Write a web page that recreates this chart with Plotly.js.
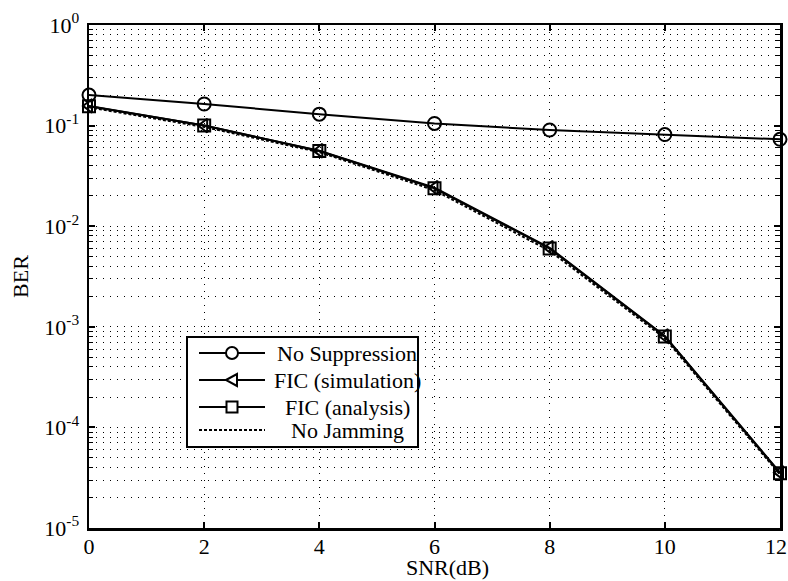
<!DOCTYPE html>
<html>
<head>
<meta charset="utf-8">
<script src="https://cdn.plot.ly/plotly-3.0.1.min.js"></script>
<style>html,body{margin:0;padding:0;background:#fff;}#chart{width:788px;height:581px;}</style>
</head>
<body>
<div id="chart"></div>
<script>
var snr = [0, 2, 4, 6, 8, 10, 12];
var noSuppression = [0.201, 0.164, 0.130, 0.105, 0.0904, 0.0815, 0.0731];
var ficSimulation = [0.157, 0.100, 0.0563, 0.0241, 0.0061, 0.00081, 3.55e-5];
var ficAnalysis = [0.156, 0.100, 0.0560, 0.0238, 0.0060, 0.00080, 3.50e-5];
var noJamming = [0.152, 0.097, 0.0545, 0.0228, 0.0057, 0.00077, 3.40e-5];
var seriesNames = ['No Suppression', 'FIC (simulation)', 'FIC (analysis)', 'No Jamming'];
var yTickVals = [1e-5, 1e-4, 1e-3, 1e-2, 1e-1, 1];
var yTickText = ['10<sup>-5</sup>', '10<sup>-4</sup>', '10<sup>-3</sup>', '10<sup>-2</sup>', '10<sup>-1</sup>', '10<sup>0</sup>'];
var xTickVals = [0, 2, 4, 6, 8, 10, 12];
var xTickText = ['0', '2', '4', '6', '8', '10', '12'];
var xTitle = 'SNR(dB)';
var yTitle = 'BER';

var font = "'Liberation Serif', 'Times New Roman', serif";
var traces = [
  {x: snr, y: noSuppression, name: seriesNames[0], mode: 'lines+markers', cliponaxis: false,
   line: {color: '#000', width: 2}, marker: {symbol: 'circle-open', size: 13, color: '#000', line: {width: 2, color: '#000'}}},
  {x: snr, y: ficSimulation, name: seriesNames[1], mode: 'lines+markers', cliponaxis: false,
   line: {color: '#000', width: 2}, marker: {symbol: 'triangle-left-open', size: 12, color: '#000', line: {width: 2, color: '#000'}}},
  {x: snr, y: ficAnalysis, name: seriesNames[2], mode: 'lines+markers', cliponaxis: false,
   line: {color: '#000', width: 2}, marker: {symbol: 'square-open', size: 12, color: '#000', line: {width: 2, color: '#000'}}},
  {x: snr, y: noJamming, name: seriesNames[3], mode: 'lines', cliponaxis: false,
   line: {color: '#000', width: 2, dash: '3px,2px'}}
];

// legend drawn manually (plot-area fractions)
var W = 691, H = 503, L = 89, B = 528;
function px(x) { return (x - L) / W; }
function py(y) { return (B - y) / H; }
var rowY = [353, 380, 407, 430];
var shapes = [];
var annotations = [];
shapes.push({type: 'rect', xref: 'paper', yref: 'paper', x0: px(187), x1: px(418), y0: py(447), y1: py(337),
  line: {color: '#000', width: 2}, fillcolor: '#fff', layer: 'above'});
rowY.forEach(function (ry, i) {
  shapes.push({type: 'line', xref: 'paper', yref: 'paper', x0: px(199), x1: px(265), y0: py(ry), y1: py(ry),
    line: {color: '#000', width: 2, dash: i === 3 ? '3px,2px' : 'solid'}, layer: 'above'});
  annotations.push({xref: 'paper', yref: 'paper', x: px(347), y: py(ry), xanchor: 'center', yanchor: 'middle',
    text: seriesNames[i], showarrow: false, font: {family: font, size: 22, color: '#000'}});
});
var mx = 232, r = 6;
shapes.push({type: 'circle', xref: 'paper', yref: 'paper', x0: px(mx - r), x1: px(mx + r), y0: py(rowY[0] + r), y1: py(rowY[0] - r),
  line: {color: '#000', width: 2}, fillcolor: '#fff', layer: 'above'});
shapes.push({type: 'path', xref: 'paper', yref: 'paper',
  path: 'M' + px(mx - 6) + ',' + py(rowY[1]) + ' L' + px(mx + 5) + ',' + py(rowY[1] - 6) + ' L' + px(mx + 5) + ',' + py(rowY[1] + 6) + ' Z',
  line: {color: '#000', width: 2}, fillcolor: '#fff', layer: 'above'});
shapes.push({type: 'rect', xref: 'paper', yref: 'paper', x0: px(mx - 5.5), x1: px(mx + 5.5), y0: py(rowY[2] + 5.5), y1: py(rowY[2] - 5.5),
  line: {color: '#000', width: 2}, fillcolor: '#fff', layer: 'above'});

// last x tick label nudged inside the picture, as in the reference
var lastIdx = xTickText.length - 1;
var shownTickText = xTickText.map(function (t, i) { return i === lastIdx ? ' ' : t; });
annotations.push({xref: 'paper', yref: 'paper', x: px(776), y: py(546), xanchor: 'center', yanchor: 'middle',
  text: xTickText[lastIdx], showarrow: false, font: {family: font, size: 22, color: '#000'}});

// x-axis title placed like the reference
annotations.push({xref: 'paper', yref: 'paper', x: px(447), y: py(567), xanchor: 'center', yanchor: 'middle',
  text: xTitle, showarrow: false, font: {family: font, size: 22, color: '#000'}});

var layout = {
  width: 788, height: 581,
  margin: {l: 89, r: 8, t: 25, b: 53},
  paper_bgcolor: '#fff', plot_bgcolor: '#fff',
  font: {family: font, size: 22, color: '#000'},
  showlegend: false,
  shapes: shapes,
  annotations: annotations,
  xaxis: {
    range: [0, 12], tickvals: xTickVals, ticktext: shownTickText,
    showline: true, linecolor: '#000', linewidth: 2.5, mirror: 'ticks',
    ticks: 'inside', ticklen: 6, tickwidth: 2, tickcolor: '#000',
    showgrid: true, gridcolor: '#000', gridwidth: 1, griddash: '1px,6px',
    zeroline: false, tickfont: {family: font, size: 22}, ticklabeloverflow: 'allow',
    ticklabelstandoff: -3
  },
  yaxis: {
    type: 'log', range: [-5, 0], tickvals: yTickVals, ticktext: yTickText,
    showline: true, linecolor: '#000', linewidth: 2.5, mirror: 'ticks',
    ticks: 'inside', ticklen: 6, tickwidth: 2, tickcolor: '#000',
    showgrid: true, gridcolor: '#000', gridwidth: 1, griddash: '1px,6px',
    minor: {dtick: 'D1', showgrid: true, gridcolor: '#000', gridwidth: 1, griddash: '1px,6px',
            ticks: 'inside', ticklen: 4, tickcolor: '#000', tickwidth: 1},
    zeroline: false, tickfont: {family: font, size: 22}, ticklabelstandoff: 3,
    title: {text: yTitle, font: {family: font, size: 22}, standoff: 10}
  }
};

Plotly.newPlot('chart', traces, layout, {displayModeBar: false, staticPlot: true});
</script>
</body>
</html>
